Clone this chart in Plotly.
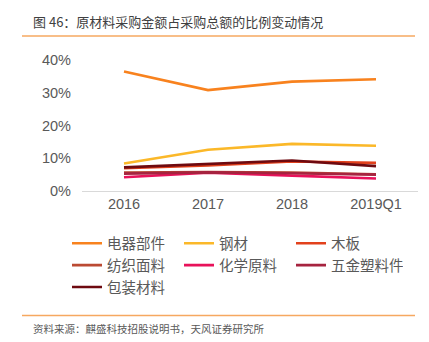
import plotly.graph_objects as go

categories = ["2016", "2017", "2018", "2019Q1"]
series_names = ["电器部件", "钢材", "木板", "纺织面料", "化学原料", "五金塑料件", "包装材料"]
s_dianqi = [36.5, 30.8, 33.4, 34.1]
s_gangcai = [8.4, 12.6, 14.4, 13.8]
s_muban = [7.0, 7.8, 9.0, 8.6]
s_fangzhi = [5.6, 5.8, 5.6, 5.1]
s_huaxue = [4.2, 5.6, 4.7, 3.8]
s_wujin = [5.3, 5.7, 5.4, 5.0]
s_baozhuang = [7.2, 8.2, 9.3, 7.6]
series_values = [s_dianqi, s_gangcai, s_muban, s_fangzhi, s_huaxue, s_wujin, s_baozhuang]
colors = ["#F8821E", "#FBB829", "#E2411C", "#BB4A33", "#E8125A", "#A6233F", "#6E0A10"]
y_ticks = [0, 10, 20, 30, 40]
y_tick_labels = ["0%", "10%", "20%", "30%", "40%"]

W, H = 429, 342
L, R = 82, 418
T, B = 60, 190.7

def px(x):
    return (x - L) / (R - L)

def py(y):
    return (B - y) / (B - T)

FONT = "Noto Sans CJK SC, Noto Sans, sans-serif"

fig = go.Figure()
for name, vals, c in zip(series_names, series_values, colors):
    fig.add_trace(go.Scatter(x=categories, y=vals, name=name, mode="lines",
                             line=dict(color=c, width=2.6)))

fig.update_layout(
    width=W, height=H,
    margin=dict(l=L, r=W - R, t=T, b=H - B),
    paper_bgcolor="white", plot_bgcolor="white",
    font=dict(family=FONT, color="#595959", size=14),
    showlegend=True,
    legend=dict(orientation="h", x=px(67), xanchor="left", y=py(227), yanchor="top",
                entrywidth=67, entrywidthmode="pixels",
                font=dict(size=14.5, color="#595959"), tracegroupgap=0,
                bgcolor="rgba(0,0,0,0)"),
    xaxis=dict(type="category", range=[-0.5, 3.5], showgrid=False, showline=True,
               linecolor="#D9D9D9", linewidth=1, ticks="", zeroline=False,
               tickfont=dict(size=14.5, color="#595959", family="Liberation Sans, Arial, sans-serif")),
    yaxis=dict(range=[0, 40], tickvals=y_ticks, ticktext=y_tick_labels, showgrid=False,
               zeroline=False, showline=False, ticks="", ticklabelstandoff=10,
               tickfont=dict(size=14.5, color="#595959", family="Liberation Sans, Arial, sans-serif")),
)

fig.add_shape(type="line", xref="paper", yref="paper", x0=px(22), x1=px(415), y0=py(36), y1=py(36),
              line=dict(color="#F6A860", width=1.5))
fig.add_shape(type="line", xref="paper", yref="paper", x0=px(22), x1=px(415), y0=py(315), y1=py(315),
              line=dict(color="#F6A860", width=1.5))
fig.add_annotation(text="图 46：原材料采购金额占采购总额的比例变动情况", xref="paper", yref="paper",
                   x=px(31), y=py(22), xanchor="left", yanchor="middle", showarrow=False,
                   font=dict(size=13, color="#404040", family=FONT))
fig.add_annotation(text="资料来源：麒盛科技招股说明书，天风证券研究所", xref="paper", yref="paper",
                   x=px(31), y=py(327.5), xanchor="left", yanchor="middle", showarrow=False,
                   font=dict(size=10.5, color="#595959", family=FONT))

fig.write_html("out.html")
